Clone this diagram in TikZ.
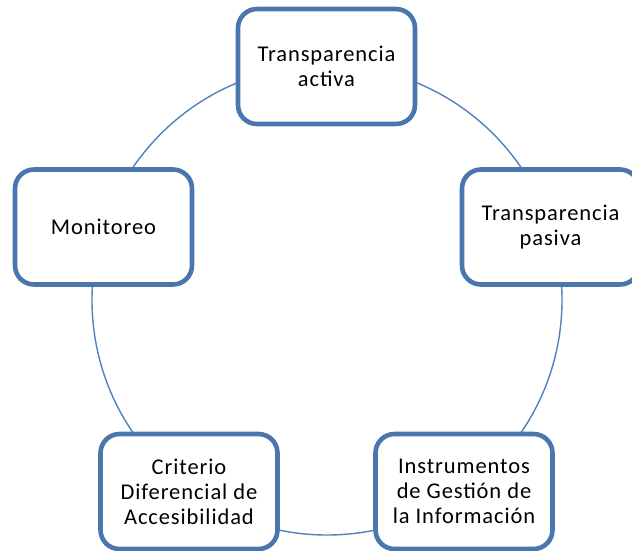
\documentclass[tikz,border=0pt]{standalone}
\usepackage{fontspec}
\setmainfont{Carlito}[LetterSpace=4]
\definecolor{boxblue}{RGB}{74,118,174}
\definecolor{ringblue}{RGB}{79,129,189}
\tikzset{
  cyclebox/.style={draw=boxblue, fill=white, line width=4.6pt, rounded corners=19pt,
    minimum width=177pt, minimum height=115pt, inner sep=0pt, align=center,
    font=\fontsize{22.5}{25}\selectfont, text=black},
  ring/.style={draw=ringblue, line width=1.4pt}
}
\begin{document}
\begin{tikzpicture}[x=1pt,y=-1pt]
\useasboundingbox (0,0) rectangle (632,550);
\clip (0,0) rectangle (632,550);
\coordinate (c) at (327,300);
\draw[ring] (c) circle[radius=235pt];
\node[cyclebox] (ta) at (326.5,66.5) {Transparencia\\activa};
\node[cyclebox] (tp) at (550.5,227) {Transparencia\\pasiva};
\node[cyclebox] (ig) at (464,491.5) {Instrumentos\\de Gestión de\\la Información};
\node[cyclebox] (cd) at (189,491.5) {Criterio\\Diferencial de\\Accesibilidad};
\node[cyclebox] (mo) at (103.5,227) {Monitoreo};
\end{tikzpicture}
\end{document}
